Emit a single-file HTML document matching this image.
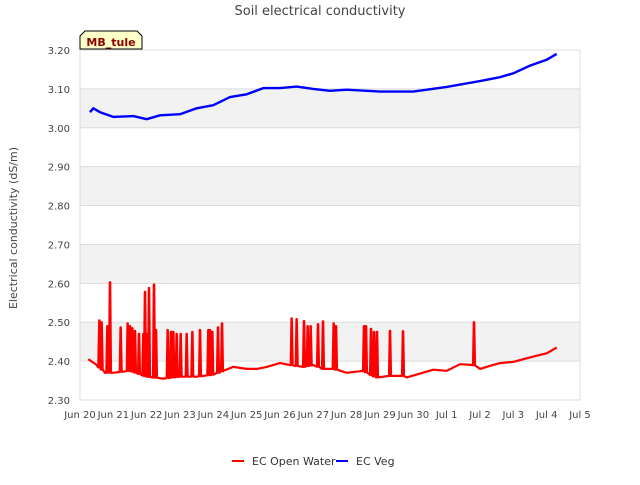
<!DOCTYPE html>
<html><head><meta charset="utf-8"><style>
body{margin:0;background:#fff;font-family:"Liberation Sans","DejaVu Sans",sans-serif;}
svg text{font-family:"DejaVu Sans","Liberation Sans",sans-serif;}
</style></head><body>
<svg id="chart" width="640" height="480" viewBox="0 0 640 480" xmlns="http://www.w3.org/2000/svg">
<text x="320" y="15" text-anchor="middle" font-size="13" fill="#444">Soil electrical conductivity</text>
<g id="grid"></g>
<g id="axes"></g>
<g id="series"></g>
<text transform="translate(17,228) rotate(-90)" text-anchor="middle" font-size="11" fill="#444">Electrical conductivity (dS/m)</text>
<g>
<path d="M80,49 L80,36 L85,31 L137,31 L142,36 L142,49 Z" fill="#ffffc8" stroke="#000" stroke-width="1"/>
<text x="111" y="46" text-anchor="middle" font-size="11" font-weight="bold" fill="#8b0000">MB_tule</text>
</g>
<g>
<g><line x1="232" y1="461" x2="244" y2="461" stroke="#f00" stroke-width="2"/><text x="252" y="465" font-size="11" fill="#333">EC Open Water</text></g>
<g><line x1="336" y1="461" x2="348" y2="461" stroke="#00f" stroke-width="2"/><text x="356" y="465" font-size="11" fill="#333">EC Veg</text></g>
</g>
</svg>
<script>
const yTicks=[2.30,2.40,2.50,2.60,2.70,2.80,2.90,3.00,3.10,3.20];
const xTickLabels=["Jun 20","Jun 21","Jun 22","Jun 23","Jun 24","Jun 25","Jun 26","Jun 27","Jun 28","Jun 29","Jun 30","Jul 1","Jul 2","Jul 3","Jul 4","Jul 5"];
const redT=[0.25,0.5,0.75,1.0,1.5,2.0,2.5,3.0,3.5,4.0,4.3,4.6,5.0,5.3,5.6,6.0,6.3,6.7,7.0,7.3,7.6,8.0,8.5,8.7,8.9,9.3,9.7,9.8,10.2,10.6,11.0,11.4,11.8,12.0,12.3,12.6,13.0,13.3,13.7,14.0,14.3];
const redV=[2.405,2.39,2.37,2.37,2.375,2.36,2.355,2.36,2.36,2.365,2.375,2.385,2.38,2.38,2.385,2.395,2.39,2.385,2.39,2.38,2.38,2.37,2.375,2.365,2.358,2.362,2.362,2.358,2.368,2.378,2.375,2.392,2.39,2.38,2.388,2.395,2.398,2.405,2.414,2.42,2.435];
const spikeT=[0.58,0.65,0.82,0.9,1.22,1.43,1.5,1.57,1.65,1.77,1.9,1.95,2.02,2.07,2.22,2.28,2.63,2.73,2.8,2.9,3.02,3.2,3.37,3.6,3.85,3.9,3.97,4.14,4.26,6.35,6.5,6.72,6.83,6.92,7.14,7.29,7.61,7.68,8.52,8.58,8.73,8.82,8.91,9.3,9.69,11.82];
const spikeV=[2.505,2.50,2.49,2.603,2.487,2.497,2.49,2.485,2.478,2.47,2.47,2.578,2.47,2.588,2.597,2.48,2.48,2.475,2.475,2.47,2.47,2.47,2.475,2.48,2.48,2.48,2.475,2.487,2.497,2.51,2.508,2.503,2.49,2.49,2.495,2.502,2.497,2.49,2.49,2.49,2.483,2.475,2.475,2.478,2.477,2.50];
const blueT=[0.3,0.4,0.6,1.0,1.6,2.0,2.4,3.0,3.5,4.0,4.5,5.0,5.5,6.0,6.5,7.0,7.5,8.0,9.0,10.0,11.0,12.0,12.6,13.0,13.5,14.0,14.3];
const blueV=[3.04,3.05,3.04,3.028,3.03,3.022,3.032,3.035,3.05,3.058,3.079,3.086,3.102,3.102,3.106,3.10,3.095,3.098,3.093,3.093,3.105,3.12,3.13,3.14,3.16,3.175,3.19];

const NS="http://www.w3.org/2000/svg";
const X0=80,X1=580,Y0=400,Y1=50;
const xs=t=>X0+t*(X1-X0)/15;
const ys=v=>Y0-(v-2.30)*(Y0-Y1)/0.9;
function mk(tag,attrs,parent){const e=document.createElementNS(NS,tag);for(const k in attrs)e.setAttribute(k,attrs[k]);parent.appendChild(e);return e;}
const grid=document.getElementById('grid'),axes=document.getElementById('axes'),ser=document.getElementById('series');
for(let i=1;i<yTicks.length;i+=2){
  const top=yTicks[i+1]||3.2;
  const b=mk('rect',{x:X0,y:ys(top),width:X1-X0,height:ys(yTicks[i])-ys(top),fill:'#f2f2f2'},grid);
  
  
}
yTicks.forEach(v=>{
  const l=mk('line',{x1:X0,x2:X1,y1:ys(v),y2:ys(v),stroke:'#dcdcdc','stroke-width':1},grid);
  
  
  const t=mk('text',{x:X0-10,y:ys(v)+4,'text-anchor':'end','font-size':'10',fill:'#444'},axes);
  t.textContent=v.toFixed(2);
  
  
});
const fr=mk('rect',{x:X0,y:Y1,width:X1-X0,height:Y0-Y1,fill:'none',stroke:'#dcdcdc'},axes);


xTickLabels.forEach((s,i)=>{
  const t=mk('text',{x:xs(i),y:Y0+18,'text-anchor':'middle','font-size':'10',fill:'#444'},axes);
  t.textContent=s;
  
  
});
function baseAt(t){for(let i=1;i<redT.length;i++){if(t<=redT[i]){const f=(t-redT[i-1])/(redT[i]-redT[i-1]);return redV[i-1]+f*(redV[i]-redV[i-1]);}}return redV[redV.length-1];}
let pts=[];let si=0;
for(let i=0;i<redT.length;i++){
  while(si<spikeT.length&&spikeT[si]<=redT[i]){const b=baseAt(spikeT[si]);pts.push([spikeT[si]-0.03,b],[spikeT[si]-0.005,spikeV[si]],[spikeT[si]+0.005,spikeV[si]],[spikeT[si]+0.03,b]);si++;}
  pts.push([redT[i],redV[i]]);
}
const rp=mk('polyline',{points:pts.map(p=>xs(p[0]).toFixed(1)+','+ys(p[1]).toFixed(1)).join(' '),fill:'none',stroke:'#f00','stroke-width':2.2,'stroke-linejoin':'round'},ser);


const bp=mk('polyline',{points:blueT.map((t,i)=>xs(t).toFixed(1)+','+ys(blueV[i]).toFixed(1)).join(' '),fill:'none',stroke:'#00f','stroke-width':2.4,'stroke-linejoin':'round'},ser);


</script>
</body></html>
